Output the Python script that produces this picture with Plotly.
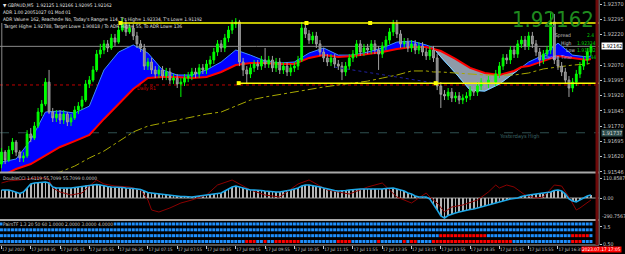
import plotly.graph_objects as go

# ---------------- data ----------------
first_open = 1.91583
close = [1.91642,1.91603,1.91652,1.91691,1.91642,1.91613,1.91623,1.91731,1.91711,1.91770,
         1.91839,1.91878,1.91986,1.91839,1.91810,1.91829,1.91800,1.91829,1.91790,1.91810,
         1.91849,1.91868,1.91898,1.91977,1.91996,1.92046,1.92124,1.92144,1.92174,1.92154,
         1.92203,1.92183,1.92242,1.92272,1.92233,1.92252,1.92213,1.92174,1.92154,1.92065,
         1.92085,1.92046,1.92026,1.92046,1.92016,1.92036,1.91996,1.92006,1.91977,1.91986,
         1.92006,1.92016,1.92036,1.92026,1.92056,1.92046,1.92075,1.92095,1.92134,1.92174,
         1.92154,1.92203,1.92242,1.92272,1.92282,1.92085,1.92046,1.92026,1.92056,1.92075,
         1.92065,1.92095,1.92075,1.92095,1.92056,1.92085,1.92046,1.92065,1.92036,1.92056,
         1.92065,1.92095,1.92252,1.92223,1.92193,1.92213,1.92174,1.92134,1.92105,1.92085,
         1.92105,1.92075,1.92065,1.92036,1.92065,1.92105,1.92124,1.92174,1.92134,1.92154,
         1.92144,1.92174,1.92144,1.92124,1.92164,1.92193,1.92233,1.92272,1.92223,1.92174,
         1.92183,1.92154,1.92174,1.92144,1.92164,1.92134,1.92115,1.92144,1.92105,1.91967,
         1.91926,1.91918,1.91937,1.91908,1.91918,1.91898,1.91908,1.91918,1.91947,1.91937,
         1.91967,1.91986,1.91977,1.91996,1.91986,1.92026,1.92065,1.92105,1.92095,1.92144,
         1.92124,1.92174,1.92193,1.92164,1.92213,1.92174,1.92134,1.92095,1.92124,1.92144,
         1.92282,1.92095,1.92065,1.92036,1.91996,1.91957,1.91986,1.92026,1.92065,1.92095,
         1.92134,1.92162]
high = [1.91662,1.91652,1.91672,1.91711,1.91701,1.91652,1.91642,1.91750,1.91760,1.91790,
        1.91859,1.91898,1.92006,1.92046,1.91859,1.91849,1.91849,1.91849,1.91839,1.91829,
        1.91868,1.91888,1.91918,1.91996,1.92016,1.92065,1.92144,1.92174,1.92193,1.92193,
        1.92223,1.92223,1.92262,1.92301,1.92292,1.92272,1.92272,1.92233,1.92193,1.92174,
        1.92105,1.92105,1.92065,1.92065,1.92065,1.92056,1.92056,1.92026,1.92026,1.92006,
        1.92026,1.92036,1.92056,1.92056,1.92075,1.92075,1.92095,1.92115,1.92154,1.92193,
        1.92193,1.92223,1.92262,1.92292,1.92301,1.92292,1.92105,1.92065,1.92075,1.92095,
        1.92095,1.92115,1.92154,1.92115,1.92115,1.92105,1.92105,1.92085,1.92085,1.92075,
        1.92085,1.92115,1.92282,1.92272,1.92242,1.92233,1.92233,1.92193,1.92154,1.92124,
        1.92124,1.92124,1.92095,1.92085,1.92085,1.92124,1.92144,1.92193,1.92193,1.92174,
        1.92174,1.92193,1.92193,1.92164,1.92183,1.92213,1.92252,1.92292,1.92292,1.92242,
        1.92203,1.92203,1.92193,1.92193,1.92183,1.92183,1.92154,1.92164,1.92164,1.92124,
        1.91986,1.91947,1.91957,1.91957,1.91937,1.91937,1.91926,1.91937,1.91967,1.91967,
        1.91986,1.92006,1.92006,1.92016,1.92016,1.92046,1.92085,1.92124,1.92124,1.92164,
        1.92164,1.92193,1.92213,1.92213,1.92233,1.92233,1.92193,1.92154,1.92144,1.92164,
        1.92331,1.92321,1.92115,1.92085,1.92056,1.92016,1.92006,1.92046,1.92085,1.92115,
        1.92154,1.92174]
low = [1.91563,1.91583,1.91593,1.91632,1.91623,1.91593,1.91593,1.91613,1.91691,1.91701,
       1.91760,1.91819,1.91868,1.91829,1.91790,1.91790,1.91780,1.91780,1.91770,1.91770,
       1.91800,1.91829,1.91849,1.91888,1.91957,1.91986,1.92036,1.92105,1.92124,1.92134,
       1.92144,1.92164,1.92174,1.92233,1.92213,1.92223,1.92193,1.92154,1.92134,1.92046,
       1.92046,1.92026,1.92006,1.92006,1.91996,1.91996,1.91977,1.91977,1.91957,1.91913,
       1.91967,1.91986,1.91996,1.92006,1.92006,1.92026,1.92026,1.92056,1.92075,1.92115,
       1.92134,1.92134,1.92183,1.92223,1.92252,1.92065,1.92016,1.91981,1.92006,1.92036,
       1.92046,1.92046,1.92056,1.92056,1.92036,1.92036,1.92026,1.92026,1.92016,1.92016,
       1.92036,1.92046,1.92085,1.92203,1.92174,1.92174,1.92154,1.92115,1.92085,1.92065,
       1.92065,1.92056,1.92046,1.91996,1.92016,1.92046,1.92085,1.92105,1.92115,1.92115,
       1.92124,1.92124,1.92124,1.92046,1.92105,1.92144,1.92174,1.92213,1.92203,1.92154,
       1.92154,1.92134,1.92134,1.92124,1.92124,1.92115,1.92095,1.92095,1.92085,1.91947,
       1.91859,1.91898,1.91898,1.91888,1.91888,1.91878,1.91878,1.91888,1.91898,1.91918,
       1.91918,1.91947,1.91957,1.91957,1.91967,1.91967,1.92006,1.92046,1.92075,1.92075,
       1.92105,1.92105,1.92154,1.92144,1.92144,1.92154,1.92115,1.92065,1.92075,1.92105,
       1.92124,1.92075,1.92046,1.92016,1.91977,1.91913,1.91937,1.91967,1.92006,1.92046,
       1.92075,1.92115]

ma_bars = [0,4,8,12,16,20,24,28,32,36,40,44,48,52,56,60,64,68,72,76,80,84,88,92,96,100,
           104,108,112,116,118,120,124,128,132,136,140,142,144,148,152,156,160,161]
ema_fast = [1.91593,1.91608,1.91701,1.91839,1.91844,1.91834,1.91868,1.92046,1.92134,1.92169,
            1.92129,1.92046,1.92021,1.92021,1.92046,1.92085,1.92144,1.92119,1.92090,1.92080,
            1.92085,1.92129,1.92154,1.92119,1.92119,1.92134,1.92154,1.92183,1.92188,1.92169,
            1.92154,1.92110,1.92031,1.91947,1.91942,1.91977,1.92031,1.92060,1.92085,1.92119,
            1.92178,1.92119,1.92110,1.92115]
ema_slow = [1.91524,1.91559,1.91583,1.91627,1.91667,1.91696,1.91726,1.91805,1.91878,1.91952,
            1.92006,1.92011,1.92011,1.92006,1.92011,1.92036,1.92070,1.92080,1.92080,1.92075,
            1.92075,1.92105,1.92119,1.92110,1.92115,1.92124,1.92134,1.92149,1.92159,1.92159,
            1.92149,1.92139,1.92100,1.92056,1.92031,1.92021,1.92041,1.92060,1.92065,1.92090,
            1.92115,1.92105,1.92095,1.92100]
ma_long = [1.91480,1.91495,1.91514,1.91534,1.91544,1.91573,1.91613,1.91647,1.91696,1.91741,
           1.91770,1.91785,1.91800,1.91814,1.91829,1.91839,1.91868,1.91898,1.91913,1.91926,
           1.91937,1.91952,1.91962,1.91972,1.91981,1.91991,1.92006,1.92021,1.92041,1.92041,
           1.92036,1.92036,1.92031,1.92026,1.92021,1.92021,1.92021,1.92026,1.92031,1.92051,
           1.92060,1.92070,1.92075,1.92080]
bear_cross = (118, 142)   # bars where fast EMA is under slow EMA

cci_main = [44.3,44.3,44.3,38.8,33.3,25.0,33.3,55.4,77.5,83.1,
            85.9,88.6,88.6,83.1,60.9,55.4,55.4,52.5,55.4,55.4,
            58.1,60.9,63.8,69.3,72.0,72.0,74.8,72.0,66.5,63.8,
            60.9,60.9,60.9,58.1,55.4,55.4,52.5,49.9,47.1,38.8,
            30.5,27.8,25.0,22.1,19.4,16.6,16.6,13.9,11.1,8.3,
            8.3,5.5,5.5,8.3,11.1,13.9,16.6,19.4,22.1,22.1,
            27.8,38.8,49.9,60.9,66.5,60.9,55.4,49.9,44.3,44.3,
            44.3,41.5,38.8,36.0,33.3,33.3,33.3,36.0,38.8,44.3,
            49.9,55.4,66.5,72.0,72.0,69.3,66.5,60.9,55.4,49.9,
            44.3,41.5,38.8,38.8,41.5,44.3,47.1,49.9,49.9,49.9,
            49.9,49.9,49.9,47.1,49.9,52.5,55.4,55.4,49.9,44.3,
            38.8,27.8,22.1,11.1,5.5,5.5,5.5,-5.5,-33.3,-66.5,
            -99.6,-110.8,-96.9,-88.6,-83.1,-77.5,-72.0,-66.5,-63.8,-60.9,
            -55.4,-49.9,-44.3,-38.8,-33.3,-27.8,-22.1,-16.6,-8.3,-5.5,
            -2.8,0.0,8.3,13.9,16.6,19.4,22.1,22.1,25.0,27.8,
            33.3,41.5,44.3,38.8,22.1,-5.5,-16.6,-22.1,-11.1,0.0,
            11.1,16.6]
cci_sig_bars = [0,2,5,9,12,13,14,16,19,22,24,26,28,31,35,38,40,41,43,46,49,52,56,59,63,68,72,76,
                81,84,89,95,100,104,108,110,112,114,116,117,119,121,123,126,130,133,135,136,138,
                140,143,146,148,151,153,155,157,158,160,161]
cci_sig = [83.1,94.3,99.8,110.9,110.9,99.8,55.4,33.3,16.6,27.8,66.5,99.8,77.5,66.5,61.0,44.4,-11.1,
           -66.5,-77.6,-55.4,-27.8,-11.1,16.6,72.0,99.8,44.4,16.6,5.5,77.5,99.8,44.4,22.1,61.0,
           83.1,5.5,-11.1,-27.8,0.0,27.8,5.5,-27.8,-77.6,-49.9,-38.8,-11.1,33.3,72.0,55.4,72.0,
           61.0,16.6,0.0,5.5,72.0,66.5,5.5,-66.5,-55.4,-27.8,-11.1]

tf_rows = [4, 3, 2, 1]
tf_red = {4: [], 3: [], 2: [(120, 132), (156, 160)],
          1: [(67, 69), (72, 72), (75, 81), (92, 95), (103, 103), (110, 110), (112, 113),
              (118, 139), (156, 158)]}

time_ticks = [0, 8, 16, 24, 32, 40, 48, 56, 64, 72, 80, 88, 96, 104, 112, 120, 128, 136, 144, 152]
time_labels = ["17 Jul 2023", "17 Jul 04:35", "17 Jul 05:15", "17 Jul 05:55", "17 Jul 06:35",
               "17 Jul 07:15", "17 Jul 07:55", "17 Jul 08:35", "17 Jul 09:15", "17 Jul 09:55",
               "17 Jul 10:35", "17 Jul 11:15", "17 Jul 11:55", "17 Jul 12:35", "17 Jul 13:15",
               "17 Jul 13:55", "17 Jul 14:35", "17 Jul 15:15", "17 Jul 15:55", "17 Jul 16:35"]
price_ticks = [1.92370, 1.92295, 1.92220, 1.92070, 1.91995, 1.91920, 1.91845, 1.91770,
               1.91695, 1.91620, 1.91546]

bid = 1.92162
channel_top = 1.92277
channel_bot = 1.91981
daily_r1 = 1.91972
yest_high = 1.91737
channel_top_pts = [32.5, 83.3, 100.7]
channel_bot_pts = [64.8, 118.6]
trend_bars = [91, 118.5]
trend_prices = [1.92060, 1.91981]

# ---------------- figure ----------------
NARROW = "Liberation Sans Narrow, Arial Narrow, DejaVu Sans Condensed, Liberation Sans, sans-serif"
AX = "#C8C8C8"
bars = list(range(len(close)))
opens = [first_open] + close[:-1]
XR = [-0.4, 163.2]
PR = [1.91544, 1.92390]
CR = [-116.4, 133.0]

fig = go.Figure()

# EMA ribbon (blue where fast above slow)
fig.add_trace(go.Scatter(x=ma_bars, y=ema_slow, mode="lines", line=dict(width=0, color="#FF0000"),
                         hoverinfo="skip", showlegend=False))
fig.add_trace(go.Scatter(x=ma_bars, y=ema_fast, mode="lines", line=dict(width=1, color="#3D8BFF"),
                         fill="tonexty", fillcolor="#0000FF", hoverinfo="skip", showlegend=False))
sel = [k for k, b in enumerate(ma_bars) if bear_cross[0] <= b <= bear_cross[1]]
fig.add_trace(go.Scatter(x=[ma_bars[k] for k in sel], y=[ema_slow[k] for k in sel], mode="lines",
                         line=dict(width=0), hoverinfo="skip", showlegend=False))
fig.add_trace(go.Scatter(x=[ma_bars[k] for k in sel], y=[ema_fast[k] for k in sel], mode="lines",
                         line=dict(width=1, color="#7FD8FF"), fill="tonexty", fillcolor="#8E9AA8",
                         hoverinfo="skip", showlegend=False))
fig.add_trace(go.Scatter(x=ma_bars, y=ema_slow, mode="lines", line=dict(width=2, color="#FF0000"),
                         hoverinfo="skip", showlegend=False))
fig.add_trace(go.Scatter(x=ma_bars, y=ma_long, mode="lines",
                         line=dict(width=1, color="#A8A800", dash="dashdot"),
                         hoverinfo="skip", showlegend=False))

# candles on an overlaying axis so they sit above the ribbon
fig.add_trace(go.Candlestick(x=bars, open=opens, high=high, low=low, close=close,
                             xaxis="x", yaxis="y2", whiskerwidth=0,
                             increasing=dict(line=dict(color="#00FF00", width=1), fillcolor="#00FF00"),
                             decreasing=dict(line=dict(color="#A0A0A0", width=1), fillcolor="#7A7A7A"),
                             showlegend=False, hoverinfo="skip"))
fig.add_trace(go.Scatter(x=trend_bars, y=trend_prices, mode="lines", xaxis="x", yaxis="y2",
                         line=dict(color="#2020A0", width=1, dash="dot"), showlegend=False, hoverinfo="skip"))
fig.add_trace(go.Scatter(x=channel_top_pts + channel_bot_pts,
                         y=[channel_top] * len(channel_top_pts) + [channel_bot] * len(channel_bot_pts),
                         mode="markers", xaxis="x", yaxis="y2",
                         marker=dict(symbol="square", size=4, color="#FFFF00"),
                         showlegend=False, hoverinfo="skip"))

# CCI panel
fig.add_trace(go.Bar(x=bars, y=cci_main, xaxis="x2", yaxis="y3", width=0.22,
                     marker=dict(color="#B4B4B4", line=dict(width=0)), showlegend=False, hoverinfo="skip"))
fig.add_trace(go.Scatter(x=cci_sig_bars, y=cci_sig, xaxis="x2", yaxis="y3", mode="lines",
                         line=dict(color="#8B0000", width=1), showlegend=False, hoverinfo="skip"))
fig.add_trace(go.Scatter(x=bars, y=cci_main, xaxis="x2", yaxis="y3", mode="lines",
                         line=dict(color="#1EA8E8", width=1.6), showlegend=False, hoverinfo="skip"))

# multi-timeframe dots panel
for r in tf_rows:
    reds = set()
    for a, b in tf_red[r]:
        reds.update(range(a, b + 1))
    fig.add_trace(go.Scatter(x=bars, y=[r] * len(bars), xaxis="x3", yaxis="y4", mode="markers",
                             marker=dict(symbol="square", size=3,
                                         color=["#FF0000" if b in reds else "#1E90FF" for b in bars],
                                         line=dict(width=0)),
                             showlegend=False, hoverinfo="skip"))

H = 245.0
def py(p):
    return 1 - p / H

common_x = dict(range=XR, showgrid=False, zeroline=False, showline=False, fixedrange=True)
fig.update_layout(
    width=625, height=254, margin=dict(l=0, r=23, t=0, b=9),
    paper_bgcolor="black", plot_bgcolor="black", showlegend=False,
    font=dict(family=NARROW, color=AX, size=6),
    xaxis=dict(domain=[0, 1], anchor="y", showticklabels=False, rangeslider=dict(visible=False), **common_x),
    xaxis2=dict(domain=[0, 1], anchor="y3", showticklabels=False, **common_x),
    xaxis3=dict(domain=[0, 1], anchor="y4", tickvals=time_ticks, ticktext=time_labels, tickangle=0,
                ticks="outside", ticklen=3, tickcolor=AX, ticklabelposition="outside right",
                tickfont=dict(size=4.5, color=AX, family=NARROW), **common_x),
    yaxis=dict(domain=[py(172), 1], range=PR, side="right", tickvals=price_ticks,
               ticktext=["%.5f" % v for v in price_ticks], ticks="outside", ticklen=2, tickcolor=AX,
               tickfont=dict(size=5.5, color=AX, family=NARROW), showgrid=False, zeroline=False),
    yaxis2=dict(domain=[py(172), 1], range=PR, overlaying="y", side="right", visible=False),
    yaxis3=dict(domain=[py(219), py(174)], range=CR, side="right",
                tickvals=[110.8587, 0], ticktext=["110.8587", "0.00"], ticks="outside", ticklen=2,
                tickcolor=AX, tickfont=dict(size=5.2, color=AX, family=NARROW),
                showgrid=False, zeroline=False),
    yaxis4=dict(domain=[0, py(221)], range=[0.40, 4.51], side="right",
                tickvals=[3.5, 0.5], ticktext=["3.5", "0.50"], ticks="outside", ticklen=2,
                tickcolor=AX, tickfont=dict(size=5.2, color=AX, family=NARROW),
                showgrid=False, zeroline=False),
)

shapes = [
    dict(type="line", xref="paper", yref="y", x0=0, x1=1, y0=bid, y1=bid,
         line=dict(color="#8A8A8A", width=1), layer="below"),
    dict(type="line", xref="paper", yref="y", x0=0, x1=1, y0=daily_r1, y1=daily_r1,
         line=dict(color="#C00000", width=1, dash="dot"), layer="below"),
    dict(type="line", xref="paper", yref="y", x0=0, x1=1, y0=yest_high, y1=yest_high,
         line=dict(color="#2F4F4F", width=1, dash="dash"), layer="below"),
    dict(type="line", xref="x", yref="y", x0=channel_top_pts[0], x1=XR[1], y0=channel_top, y1=channel_top,
         line=dict(color="#FFFF00", width=1.5), layer="above"),
    dict(type="line", xref="x", yref="y", x0=channel_bot_pts[0], x1=XR[1], y0=channel_bot, y1=channel_bot,
         line=dict(color="#FFFF00", width=1.5), layer="above"),
    dict(type="line", xref="paper", yref="y", x0=0.003, x1=0.003, y0=PR[0], y1=channel_top,
         line=dict(color="#8A8A8A", width=1), layer="below"),
    dict(type="line", xref="paper", yref="y3", x0=0, x1=1, y0=0, y1=0,
         line=dict(color="#A0A0A0", width=1), layer="below"),
    # panel frames
    dict(type="line", xref="paper", yref="paper", x0=0, x1=1, y0=py(172.5), y1=py(172.5),
         line=dict(color="#A8A8A8", width=2)),
    dict(type="line", xref="paper", yref="paper", x0=0, x1=1, y0=py(220), y1=py(220),
         line=dict(color="#A8A8A8", width=2)),
    dict(type="line", xref="paper", yref="paper", x0=0, x1=1, y0=0, y1=0,
         line=dict(color="#A8A8A8", width=1)),
    dict(type="line", xref="paper", yref="paper", x0=1, x1=1, y0=0, y1=1,
         line=dict(color="#A8A8A8", width=1)),
    dict(type="line", xref="paper", yref="paper", x0=600 / 602, x1=600 / 602, y0=0, y1=1,
         line=dict(color="#6E0A0A", width=3)),
]
fig.update_layout(shapes=shapes)

def note(text, x, y, size=6, color="#E6E6E6", xanchor="left", xref="paper", yref="paper", **kw):
    fig.add_annotation(text=text, x=x, y=y, xref=xref, yref=yref, xanchor=xanchor, yanchor="middle",
                       showarrow=False, borderpad=0,
                       font=dict(size=size, color=color, family=NARROW), **kw)

note("▼ GBPAUD,M5  1.92125 1.92166 1.92095 1.92162", 0.004, py(5), size=4.8)
note("ADR 1.00 20051027 01 Mod 01", 0.004, py(12.5), size=4.8)
note("ADR Value= 162, Reached= No, Today's Range= 114, T's High= 1.92334, T's Low= 1.91192", 0.004,
     py(19.5), size=4.8)
note("Target High= 1.92788, Target Low= 1.90818 / To ADR High= 55, To ADR Low= 136", 0.004,
     py(26.5), size=4.8)

note("1.92162", 598 / 602, py(20), size=22, color="#1F8A1F", xanchor="right")
note("Spread", 557 / 602, py(35.5), size=5, color="#C8C8C8")
note("2.4", 598 / 602, py(35.5), size=5, color="#00C800", xanchor="right")
note("High", 563 / 602, py(43), size=5, color="#C8C8C8")
note("1.92334", 600 / 602, py(43), size=5, color="#00C800", xanchor="right")
note("Low", 568 / 602, py(50), size=5, color="#C8C8C8")
note("1.91192", 600 / 602, py(50), size=5, color="#00C800", xanchor="right")
note("Candle Time", 546 / 602, py(57), size=5, color="#A0A8FF")
note("2:44", 600 / 602, py(57), size=5, color="#00C800", xanchor="right")

note("Daily R1", 36.8, 1.91955, size=5, color="#D00000", xref="x", yref="y")
note("Yesterdays High", 135.5, 1.91719, size=5.5, color="#3C6464", xref="x", yref="y")

note("DoubleCCI 1.6119 55.7099 55.7099 0.0000", 0.004, py(178), size=4.8, color="#D0D0D0")
note("PairsTF 1.3 20 50 60 1.0000 2.0000 3.0000 4.0000", 0.004, py(224.5), size=4.8, color="#D0D0D0",
     bgcolor="black")

# highlighted price scale labels
note("1.92162", 1.004, bid, size=5.5, color="black", yref="y", bgcolor="white")
note("1.91737", 1.004, yest_high, size=5.5, color="#D8D8D8", yref="y", bgcolor="#2F4F4F")
note("-290.7567", 1.004, py(215.5), size=5.2, color=AX)
note("2023.07.17 17:05", 584 / 602, py(249.5), size=4.8, color="white", bgcolor="#FF0000")

fig.write_html("out.html")
